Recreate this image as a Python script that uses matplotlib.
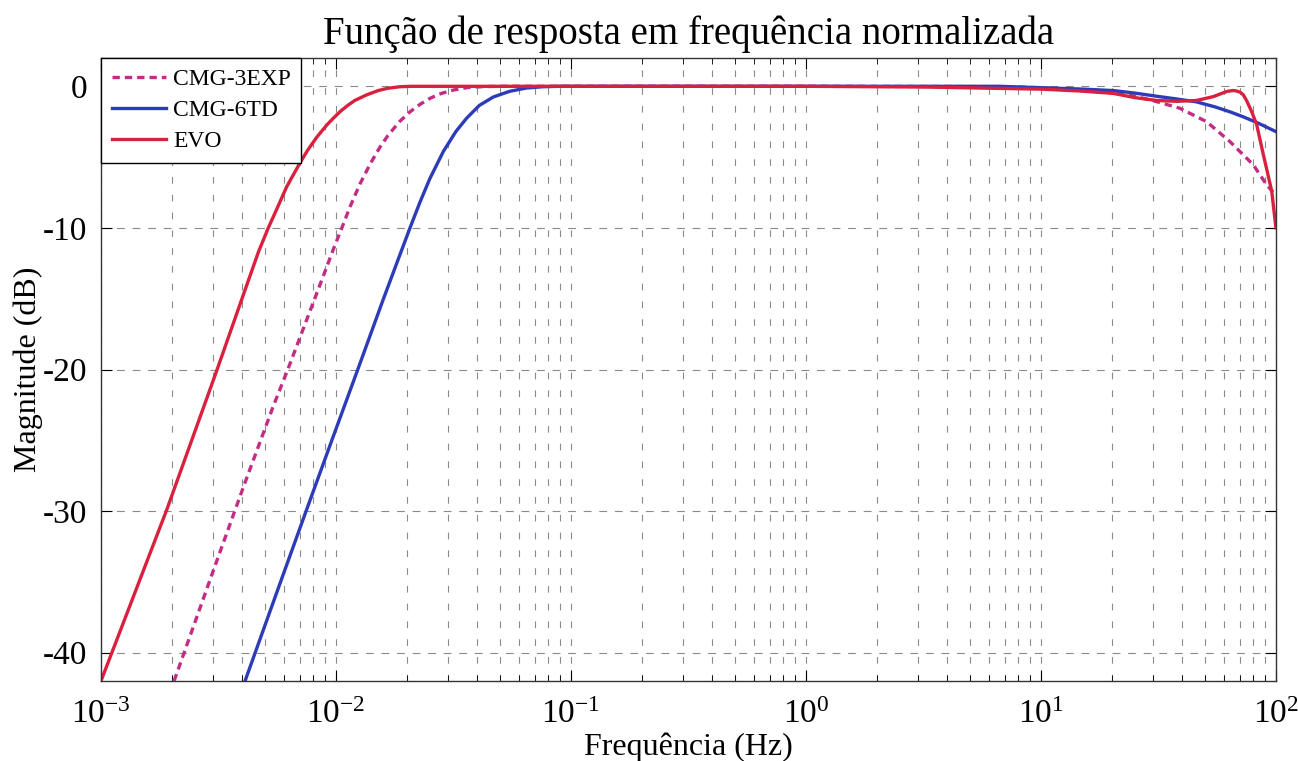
import numpy as np
import matplotlib
matplotlib.use("Agg")
import matplotlib.pyplot as plt

plt.rcParams['font.family'] = ['Liberation Serif', 'DejaVu Serif']
plt.rcParams['mathtext.fontset'] = 'custom'
plt.rcParams['mathtext.rm'] = 'Liberation Serif'
plt.rcParams['mathtext.it'] = 'Liberation Serif:italic'
plt.rcParams['axes.unicode_minus'] = False

# Respostas normalizadas dos sensores (log10 da frequência em Hz, magnitude em dB)
logf_3exp = [-2.689, -2.522, -2.394, -2.267, -2.205, -2.054, -2.011, -1.975, -1.94,
             -1.898, -1.855, -1.813, -1.78, -1.73, -1.685, -1.64, -1.60, -1.56, -1.515,
             -1.47, -1.43, -1.37, -1.30, 0.0, 0.826, 1.0, 1.166, 1.308, 1.40, 1.492,
             1.591, 1.705, 1.804, 1.904, 1.96, 2.0]
db_3exp = [-42.0, -34.2, -28.3, -22.6, -20.0, -13.4, -11.5, -10.0, -8.5,
           -6.9, -5.5, -4.3, -3.5, -2.5, -1.8, -1.25, -0.85, -0.55, -0.32,
           -0.16, -0.07, -0.02, 0.0, 0.0, -0.02, -0.1, -0.3, -0.45, -0.7, -1.08,
           -1.55, -2.5, -3.9, -5.55, -6.95, -7.7]

logf_6td = [-2.387, -2.238, -2.125, -2.011, -1.905, -1.80, -1.728, -1.685, -1.643,
            -1.60, -1.543, -1.49, -1.444, -1.39, -1.330, -1.26, -1.189, -1.12, -1.047,
            0.0, 0.826, 1.0, 1.166, 1.308, 1.40, 1.492, 1.58, 1.662, 1.74, 1.804,
            1.86, 1.918, 2.0]
db_6td = [-42.0, -35.1, -29.9, -24.7, -19.9, -15.1, -11.9, -10.0, -8.2,
          -6.5, -4.6, -3.2, -2.25, -1.35, -0.75, -0.35, -0.12, -0.03, 0.0,
          0.0, 0.0, -0.1, -0.19, -0.3, -0.48, -0.7, -0.9, -1.1, -1.45, -1.8,
          -2.15, -2.55, -3.2]

logf_evo = [-3.0, -2.72, -2.51, -2.40, -2.33, -2.288, -2.25, -2.21, -2.153, -2.12,
            -2.082, -2.04, -2.011, -1.98, -1.95, -1.92, -1.869, -1.82, -1.78, -1.728,
            -1.68, 0.0, 0.5, 1.0, 1.166, 1.308, 1.40, 1.492, 1.58, 1.662, 1.733, 1.79,
            1.815, 1.83, 1.848, 1.861, 1.875, 1.897, 1.918, 1.946, 1.96, 1.982, 2.0]
db_evo = [-42.0, -29.9, -20.2, -15.0, -11.7, -10.0, -8.6, -7.1, -5.4, -4.5,
          -3.6, -2.75, -2.25, -1.75, -1.35, -1.0, -0.6, -0.3, -0.14, -0.03,
          0.0, 0.0, -0.05, -0.2, -0.33, -0.5, -0.8, -1.0, -1.06, -1.0, -0.73, -0.37,
          -0.3, -0.32, -0.42, -0.6, -1.0, -1.8, -2.7, -4.8, -5.8, -7.4, -10.0]

fig = plt.figure(figsize=(12.98, 7.61), dpi=100)
ax = fig.add_axes([0.0778, 0.1051, 0.9052, 0.8187])

ax.semilogx(10 ** np.array(logf_3exp), db_3exp, color='#c42c84', lw=2.4,
            linestyle=(0, (2.2, 1.5)), label='CMG-3EXP')
ax.semilogx(10 ** np.array(logf_6td), db_6td, color='#2c3cb8', lw=2.4, label='CMG-6TD')
ax.semilogx(10 ** np.array(logf_evo), db_evo, color='#d9203f', lw=2.4, label='EVO')

ax.set_xlim(1e-3, 1e2)
ax.set_ylim(-42, 2)
ax.set_yticks([0, -10, -20, -30, -40])

# grade estilo MATLAB: vertical em todas as subdivisões, horizontal só nas principais
ax.grid(True, which='major', axis='y', color='#8a8a8a', lw=0.8, linestyle=(0, (7, 7)))
ax.grid(True, which='both', axis='x', color='#8a8a8a', lw=0.8, linestyle=(0, (6, 10)))
ax.set_axisbelow(True)

ax.tick_params(which='both', direction='in', top=True, right=True, labelsize=24)
ax.tick_params(which='major', length=8)
ax.tick_params(which='minor', length=4)
ax.tick_params(axis='x', which='major', pad=13)
ax.tick_params(axis='y', which='major', pad=10)
for s in ax.spines.values():
    s.set_color('#333333')
    s.set_linewidth(1.0)

ax.set_title('Função de resposta em frequência normalizada', fontsize=28, pad=10)
ax.set_xlabel('Frequência (Hz)', fontsize=23, labelpad=2)
ax.set_ylabel('Magnitude (dB)', fontsize=23, labelpad=0)

leg = ax.legend(loc='upper left', bbox_to_anchor=(0, 1), borderaxespad=0,
                fancybox=False, framealpha=1, edgecolor='black', fontsize=17,
                handlelength=2.3, handletextpad=0.3, labelspacing=0.4,
                borderpad=0.45)
leg.get_frame().set_linewidth(1.0)

fig.savefig('out.png', dpi=100)
